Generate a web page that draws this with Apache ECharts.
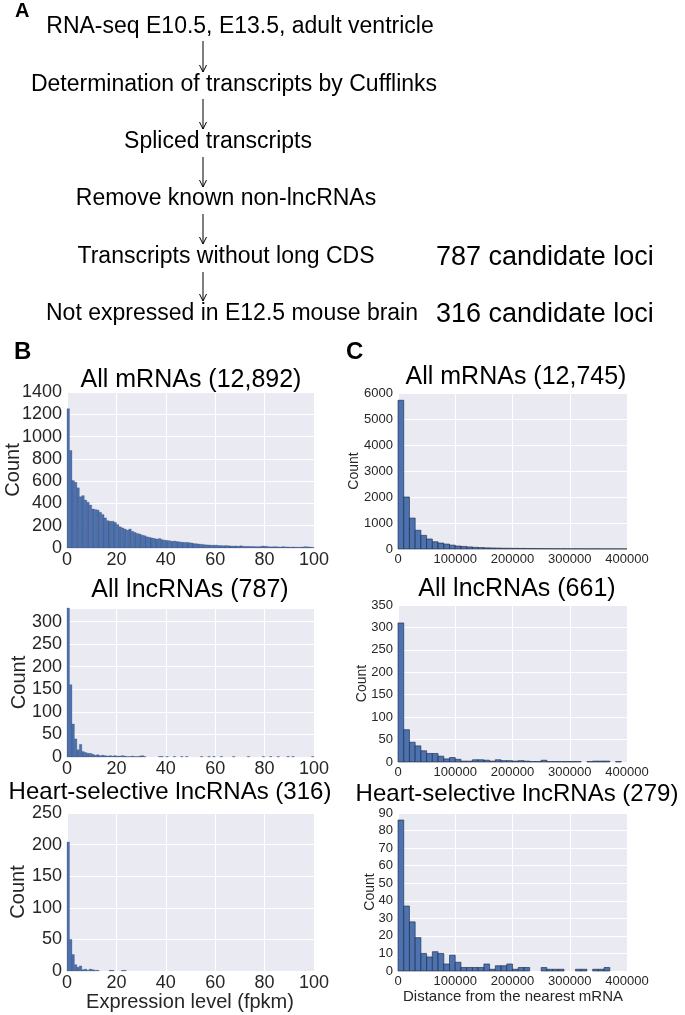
<!DOCTYPE html>
<html>
<head>
<meta charset="utf-8">
<title>lncRNA candidate pipeline and histograms</title>
<script src="https://cdn.jsdelivr.net/npm/echarts@6/dist/echarts.min.js"></script>
<style>
  html, body { margin: 0; padding: 0; background: #fff; }
  #chart { width: 685px; height: 1015px; }
</style>
</head>
<body>
<div id="chart"></div>
<script>
// panel A: pipeline steps
const pipelineSteps = [
  'RNA-seq E10.5, E13.5, adult ventricle',
  'Determination of transcripts by Cufflinks',
  'Spliced transcripts',
  'Remove known non-lncRNAs',
  'Transcripts without long CDS',
  'Not expressed in E12.5 mouse brain'
];
const candidateNotes = ['787 candidate loci', '316 candidate loci'];

// panel titles
const exprTitles = ['All mRNAs (12,892)', 'All lncRNAs (787)', 'Heart-selective lncRNAs (316)'];
const distTitles = ['All mRNAs (12,745)', 'All lncRNAs (661)', 'Heart-selective lncRNAs (279)'];

// panel B: expression level, 1 fpkm bins 0..100
const exprBinWidth = 1;
const exprMrna = [
  1250, 875, 605, 590, 540, 460, 470, 430, 410, 385,
  350, 345, 340, 320, 300, 270, 245, 240, 240, 230,
  210, 190, 180, 170, 160, 170, 150, 140, 130, 125,
  115, 110, 100, 95, 90, 85, 80, 85, 75, 70,
  68, 65, 60, 62, 58, 55, 52, 50, 50, 48,
  45, 40, 38, 35, 33, 30, 28, 27, 25, 25,
  26, 22, 22, 20, 22, 20, 18, 17, 18, 16,
  20, 15, 14, 15, 13, 14, 12, 12, 14, 18,
  15, 12, 10, 11, 12, 10, 9, 12, 10, 9,
  8, 9, 8, 7, 8, 9, 12, 10, 8, 6
];
const exprLnc = [
  330, 160, 73, 40, 16, 28, 12, 10, 8, 8,
  6, 4, 5, 3, 4, 3, 2, 3, 2, 3,
  2, 2, 3, 2, 1, 1, 2, 1, 1, 2,
  3, 1, 0, 0, 0, 0, 0, 1, 1, 0,
  1, 0, 0, 1, 0, 0, 1, 0, 1, 0,
  0, 0, 0, 0, 1, 0, 0, 1, 0, 1,
  0, 0, 1, 0, 0, 0, 0, 1, 0, 0,
  0, 0, 0, 1, 0, 0, 0, 0, 0, 1,
  0, 0, 1, 0, 0, 1, 0, 0, 0, 1,
  0, 1, 0, 0, 0, 0, 0, 0, 0, 1
];
const exprHeart = [
  204, 50, 26, 10, 6, 8, 2, 3, 1, 3,
  2, 1, 1, 0, 0, 0, 0, 1, 1, 0,
  0, 0, 1, 1, 0, 0, 0, 0, 0, 0,
  0, 0, 0, 0, 0, 0, 0, 0, 0, 0,
  0, 0, 0, 0, 0, 0, 0, 0, 0, 0,
  0, 0, 0, 0, 0, 0, 0, 0, 0, 0,
  0, 0, 0, 0, 0, 0, 0, 0, 0, 0,
  0, 0, 0, 0, 0, 0, 0, 0, 0, 0,
  0, 0, 0, 0, 0, 0, 0, 0, 0, 0,
  0, 0, 0, 0, 0, 0, 0, 0, 0, 0
];

// panel C: distance to nearest mRNA, 10 kb bins 0..400000
const distBinWidth = 10000;
const distMrna = [
  5720, 2000, 1190, 720, 525, 385, 280, 230, 190, 150,
  115, 100, 80, 65, 55, 45, 40, 35, 30, 28,
  25, 22, 20, 18, 16, 14, 13, 12, 11, 10,
  9, 10, 8, 7, 8, 6, 6, 5, 5, 4
];
const distLnc = [
  310, 72, 44, 36, 25, 19, 19, 13, 7, 10,
  6, 2, 2, 5, 5, 4, 2, 5, 3, 3,
  2, 3, 2, 1, 1, 4, 1, 1, 1, 1,
  1, 1, 0, 1, 2, 2, 2, 0, 1, 0
];
const distHeart = [
  86, 37, 28, 19, 10, 8, 11, 10, 4, 9,
  5, 2, 2, 2, 2, 4, 1, 3, 3, 4,
  1, 2, 2, 0, 0, 2, 1, 1, 1, 0,
  0, 1, 1, 0, 1, 1, 2, 0, 0, 0
];

const FONT = '"Liberation Sans", Arial, Helvetica, sans-serif';
const BG = '#EAEAF2';
const BAR = '#4C72B0';
const TICK = '#262626';

const chart = echarts.init(document.getElementById('chart'));

// one entry per histogram
const panels = [
  { counts: exprMrna, bin: exprBinWidth, title: exprTitles[0], grid: { left: 67, top: 392, width: 247, height: 156 },
    xMax: 100, xStep: 20, yMax: 1400, yStep: 200, titleX: 191, titleY: 380, titleSize: 25, countX: 13 },
  { counts: exprLnc, bin: exprBinWidth, title: exprTitles[1], grid: { left: 67, top: 608, width: 247, height: 149 },
    xMax: 100, xStep: 20, yMax: 330, yStep: 50, titleX: 190, titleY: 590, titleSize: 25, countX: 19 },
  { counts: exprHeart, bin: exprBinWidth, title: exprTitles[2], grid: { left: 67, top: 813, width: 247, height: 158 },
    xMax: 100, xStep: 20, yMax: 250, yStep: 50, titleX: 170, titleY: 792, titleSize: 24, countX: 18 },
  { counts: distMrna, bin: distBinWidth, title: distTitles[0], grid: { left: 398, top: 393, width: 229, height: 156 },
    xMax: 400000, xStep: 100000, yMax: 6000, yStep: 1000, titleX: 516, titleY: 377, titleSize: 25, countX: 354 },
  { counts: distLnc, bin: distBinWidth, title: distTitles[1], grid: { left: 398, top: 605, width: 229, height: 157 },
    xMax: 400000, xStep: 100000, yMax: 350, yStep: 50, titleX: 517, titleY: 589, titleSize: 25, countX: 362 },
  { counts: distHeart, bin: distBinWidth, title: distTitles[2], grid: { left: 398, top: 813, width: 229, height: 158 },
    xMax: 400000, xStep: 100000, yMax: 90, yStep: 10, titleX: 517, titleY: 794, titleSize: 24, countX: 370 }
];

function histRect(isExpr) {
  return function (params, api) {
    const h = api.value(2);
    if (!h) return null;
    const p0 = api.coord([api.value(0), h]);
    const p1 = api.coord([api.value(1), 0]);
    return {
      type: 'rect',
      shape: { x: p0[0], y: p0[1], width: p1[0] - p0[0], height: p1[1] - p0[1] },
      style: {
        fill: BAR,
        stroke: isExpr ? 'rgba(30,45,80,0.45)' : 'rgba(25,35,60,0.75)',
        lineWidth: isExpr ? 0.5 : 0.8
      }
    };
  };
}

const grids = [], xAxes = [], yAxes = [], series = [];
const graphics = [];

function txt(text, x, y, size, opts) {
  opts = opts || {};
  return {
    type: 'text', x: x, y: y, rotation: opts.rotation || 0, silent: true,
    style: {
      text: text, fontSize: size, fontFamily: FONT, fontWeight: opts.bold ? 'bold' : 'normal',
      fill: opts.color || '#000', align: opts.align || 'center', verticalAlign: 'middle'
    }
  };
}

panels.forEach(function (p, i) {
  const isExpr = i < 3;
  grids.push(Object.assign({ show: true, backgroundColor: BG, borderWidth: 0 }, p.grid));
  xAxes.push({
    type: 'value', gridIndex: i, min: 0, max: p.xMax, interval: p.xStep,
    axisLine: { show: false }, axisTick: { show: false },
    splitLine: { show: true, lineStyle: { color: '#fff', width: 1 } },
    axisLabel: { fontSize: isExpr ? 18 : 13, color: TICK, fontFamily: FONT, margin: isExpr ? 3 : 4,
      formatter: function (v) { return String(v); } }
  });
  yAxes.push({
    type: 'value', gridIndex: i, min: 0, max: p.yMax, interval: p.yStep,
    axisLine: { show: false }, axisTick: { show: false },
    splitLine: { show: true, lineStyle: { color: '#fff', width: 1 } },
    axisLabel: { fontSize: isExpr ? 18 : 13, color: TICK, fontFamily: FONT, margin: 5,
      formatter: function (v) { return v % p.yStep === 0 ? String(v) : ''; } }
  });
  series.push({
    type: 'custom', xAxisIndex: i, yAxisIndex: i, silent: true,
    renderItem: histRect(isExpr),
    encode: { x: [0, 1], y: 2 },
    data: p.counts.map(function (c, k) { return [k * p.bin, (k + 1) * p.bin, c]; })
  });
  graphics.push(txt(p.title, p.titleX, p.titleY, p.titleSize));
  graphics.push(txt('Count', p.countX, p.grid.top + p.grid.height / 2, isExpr ? 20 : 14,
    { rotation: Math.PI / 2, color: TICK }));
});

// axis titles under the bottom row
graphics.push(txt('Expression level (fpkm)', 190, 1002, 20, { color: TICK }));
graphics.push(txt('Distance from the nearest mRNA', 513, 997, 15, { color: TICK }));

// panel letters
graphics.push(txt('A', 15, 11, 20, { bold: true, align: 'left' }));
graphics.push(txt('B', 14, 352, 24, { bold: true, align: 'left' }));
graphics.push(txt('C', 346, 352, 24, { bold: true, align: 'left' }));

// panel A flow
const stepCenters = [240, 234, 218, 226, 226, 232];
const stepY = [27, 85, 142, 199, 257, 314];
pipelineSteps.forEach(function (s, i) {
  graphics.push(txt(s, stepCenters[i], stepY[i], 23));
});
graphics.push(txt(candidateNotes[0], 436, 258, 27, { align: 'left' }));
graphics.push(txt(candidateNotes[1], 436, 315, 27, { align: 'left' }));

const arrowX = 203;
const arrowSpans = [[41, 72], [99, 129], [157, 187], [214, 244], [272, 301]];
arrowSpans.forEach(function (a) {
  graphics.push({ type: 'line', silent: true,
    shape: { x1: arrowX, y1: a[0], x2: arrowX, y2: a[1] },
    style: { stroke: '#000', lineWidth: 1 } });
  graphics.push({ type: 'polyline', silent: true,
    shape: { points: [[arrowX - 3.5, a[1] - 7], [arrowX, a[1]], [arrowX + 3.5, a[1] - 7]] },
    style: { stroke: '#000', lineWidth: 1, fill: 'none' } });
});

chart.setOption({
  animation: false,
  backgroundColor: '#fff',
  grid: grids,
  xAxis: xAxes,
  yAxis: yAxes,
  series: series,
  graphic: { elements: graphics }
});

window.addEventListener('resize', function () { chart.resize(); });
</script>
</body>
</html>
